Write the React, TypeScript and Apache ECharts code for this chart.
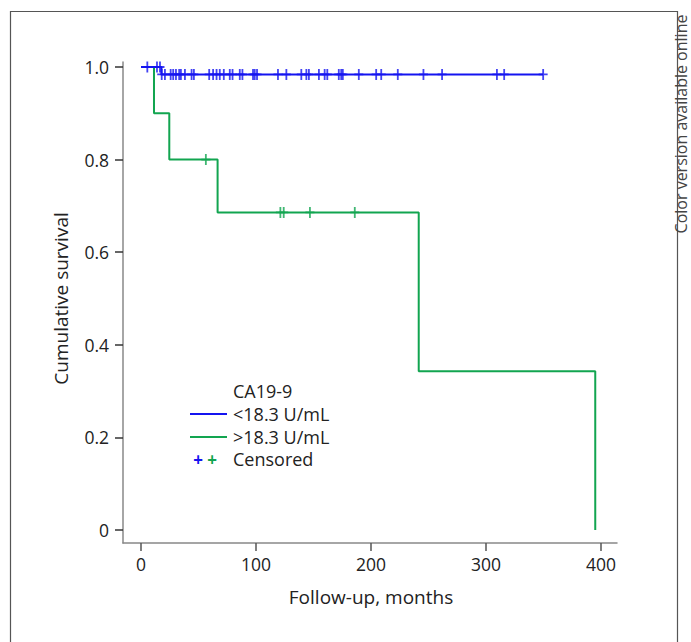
import React, { useEffect, useRef } from "react";
import * as echarts from "echarts";

// Kaplan-Meier step curves: [months, cumulative survival]
const lowCurve: [number, number][] = [
  [0, 1],
  [17.8, 0.984],
  [349.7, 0.984],
];
const highCurve: [number, number][] = [
  [0, 1],
  [11.3, 0.9],
  [24.6, 0.8],
  [66.6, 0.686],
  [241.5, 0.343],
  [395, 0],
];

// Censored observations
const lowCensoredTop = [5.5, 13.9, 16.5];
const lowCensoredTopValue = 1.0;
const lowCensored = [
  18, 20.8, 25.8, 28, 30.4, 33.2, 34.7, 38.2, 44, 46, 59.3, 62.7, 65.7, 68.5,
  72, 77.2, 79.6, 85.9, 88.2, 97.4, 98.9, 100.9, 119.1, 126.4, 139.4, 143.8,
  146, 154.7, 159.7, 162, 172, 174.1, 175.5, 189.4, 204.5, 208.9, 223.3,
  245.6, 261.8, 309.5, 315.8, 349.7,
];
const lowCensoredValue = 0.984;
const highCensored: [number, number][] = [
  [56.4, 0.8],
  [121.2, 0.686],
  [124.1, 0.686],
  [146.9, 0.686],
  [185.9, 0.686],
];

const xTicks = [0, 100, 200, 300, 400];
const yTicks = [0, 0.2, 0.4, 0.6, 0.8, 1.0];

const legendTitle = "CA19-9";
const seriesNames = ["<18.3 U/mL", ">18.3 U/mL"];
const censoredLabel = "Censored";
const xName = "Follow-up, months";
const yName = "Cumulative survival";
const sideNote = "Color version available online";

const BLUE = "#1414f0";
const GREEN = "#12a550";
const FONT = "Open Sans";
const PLUS = "path://M4,0 H6 V5 H10 V7 H6 V12 H4 V7 H0 V5 H4 Z";

export default function App() {
  const ref = useRef<HTMLDivElement>(null);

  useEffect(() => {
    if (!ref.current) return;
    const chart = echarts.init(ref.current, undefined, { renderer: "svg" });
    const labelFmt = (v: number) => (v === 0 ? "0" : v.toFixed(1));
    const legendText = { fontSize: 18, fontFamily: FONT, fill: "#222", verticalAlign: "middle" };
    const option: any = {
      animation: false,
      backgroundColor: "#ffffff",
      textStyle: { fontFamily: FONT },
      grid: [
        { left: 141, top: 67, width: 460, height: 463 },
        { left: 123, top: 62, width: 494, height: 481 },
      ],
      xAxis: [
        {
          gridIndex: 0,
          type: "value",
          min: xTicks[0],
          max: xTicks[xTicks.length - 1],
          interval: 100,
          offset: 13,
          axisLine: { show: false, onZero: false },
          axisTick: { show: true, length: 8, lineStyle: { color: "#555", width: 1.5 } },
          axisLabel: { margin: 12, fontSize: 17.5, color: "#222", fontFamily: FONT },
          splitLine: { show: false },
          name: xName,
          nameLocation: "middle",
          nameGap: 44,
          nameTextStyle: { fontSize: 19, color: "#222", fontFamily: FONT },
        },
        {
          gridIndex: 1,
          type: "value",
          min: 0,
          max: 1,
          axisLine: { show: true, onZero: false, lineStyle: { color: "#888", width: 1.5 } },
          axisTick: { show: false },
          axisLabel: { show: false },
          splitLine: { show: false },
        },
      ],
      yAxis: [
        {
          gridIndex: 0,
          type: "value",
          min: yTicks[0],
          max: yTicks[yTicks.length - 1],
          interval: 0.2,
          offset: 18,
          axisLine: { show: false, onZero: false },
          axisTick: { show: true, length: 8, lineStyle: { color: "#333", width: 1.5 } },
          axisLabel: { margin: 14, fontSize: 17.5, color: "#222", fontFamily: FONT, formatter: labelFmt },
          splitLine: { show: false },
          name: yName,
          nameLocation: "middle",
          nameGap: 53,
          nameTextStyle: { fontSize: 19, color: "#222", fontFamily: FONT },
        },
        {
          gridIndex: 1,
          type: "value",
          min: 0,
          max: 1,
          axisLine: { show: true, onZero: false, lineStyle: { color: "#888", width: 1.5 } },
          axisTick: { show: false },
          axisLabel: { show: false },
          splitLine: { show: false },
        },
      ],
      series: [
        {
          name: seriesNames[1],
          type: "line",
          step: "end",
          data: highCurve,
          showSymbol: false,
          symbol: "none",
          lineStyle: { color: GREEN, width: 2 },
          z: 2,
        },
        {
          name: seriesNames[0],
          type: "line",
          step: "end",
          data: lowCurve,
          showSymbol: false,
          symbol: "none",
          lineStyle: { color: BLUE, width: 2 },
          z: 3,
        },
        {
          type: "scatter",
          data: highCensored,
          symbol: PLUS,
          symbolSize: [9, 11],
          itemStyle: { color: GREEN },
          z: 4,
        },
        {
          type: "scatter",
          data: [
            ...lowCensoredTop.map((t) => [t, lowCensoredTopValue]),
            ...lowCensored.map((t) => [t, lowCensoredValue]),
          ],
          symbol: PLUS,
          symbolSize: [9, 11],
          itemStyle: { color: BLUE },
          z: 5,
        },
      ],
      graphic: [
        {
          type: "rect",
          shape: { x: 10.5, y: 11.5, width: 667, height: 700 },
          style: { fill: "none", stroke: "#555", lineWidth: 1.2 },
          silent: true,
        },
        {
          type: "text",
          x: 681,
          y: 124,
          rotation: Math.PI / 2,
          style: {
            text: sideNote,
            fontSize: 16,
            fontFamily: FONT,
            fill: "#444",
            align: "center",
            verticalAlign: "middle",
          },
        },
        { type: "text", x: 233, y: 391, style: { text: legendTitle, ...legendText } },
        {
          type: "line",
          shape: { x1: 190, y1: 414, x2: 227, y2: 414 },
          style: { stroke: BLUE, lineWidth: 2 },
        },
        { type: "text", x: 233, y: 414, style: { text: seriesNames[0], ...legendText } },
        {
          type: "line",
          shape: { x1: 190, y1: 437, x2: 227, y2: 437 },
          style: { stroke: GREEN, lineWidth: 2 },
        },
        { type: "text", x: 233, y: 437, style: { text: seriesNames[1], ...legendText } },
        {
          type: "text",
          x: 198,
          y: 459,
          style: { text: "+", fontSize: 17, fontWeight: "bold", fontFamily: FONT, fill: BLUE, align: "center", verticalAlign: "middle" },
        },
        {
          type: "text",
          x: 212,
          y: 459,
          style: { text: "+", fontSize: 17, fontWeight: "bold", fontFamily: FONT, fill: GREEN, align: "center", verticalAlign: "middle" },
        },
        { type: "text", x: 233, y: 459, style: { text: censoredLabel, ...legendText } },
      ],
    };
    chart.setOption(option);
    return () => chart.dispose();
  }, []);

  return (
    <div
      ref={ref}
      style={{ position: "fixed", left: 0, top: 0, width: 691, height: 642, background: "#fff" }}
    />
  );
}
